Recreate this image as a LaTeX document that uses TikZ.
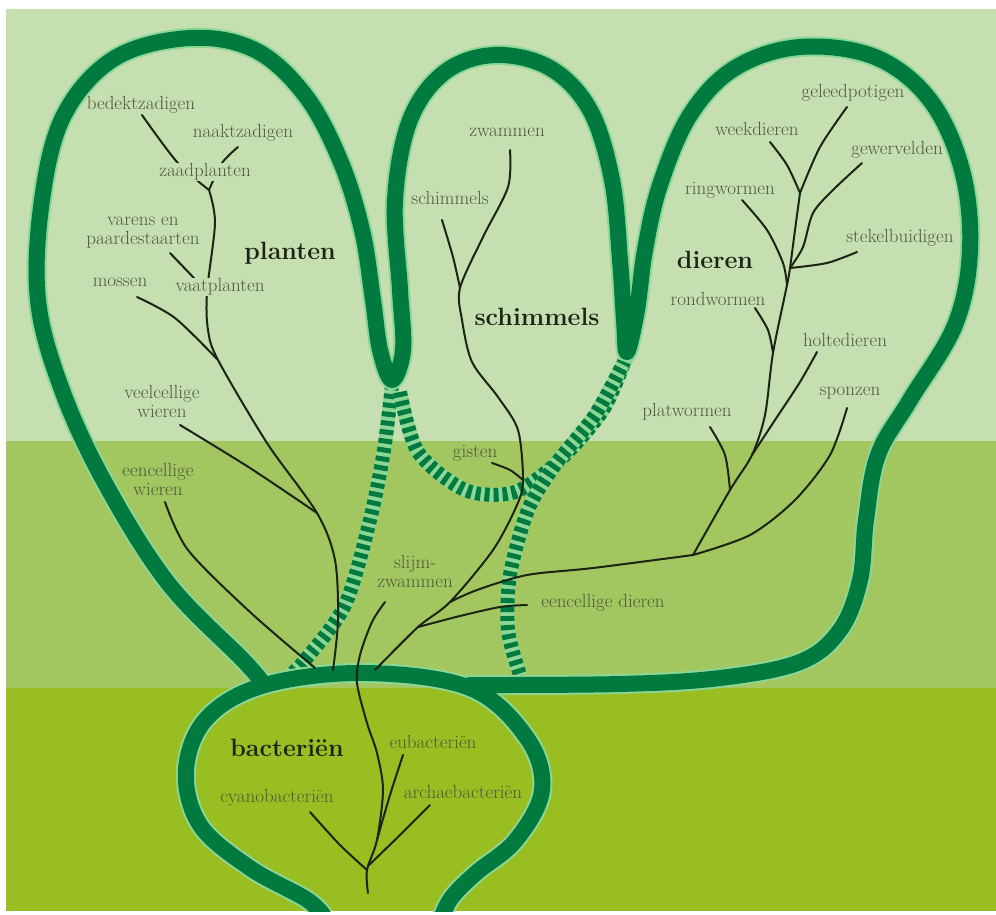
\documentclass[tikz,border=0pt]{standalone}
\usepackage{tikz}
\definecolor{bandtop}{RGB}{198,223,176}
\definecolor{bandmid}{RGB}{163,199,96}
\definecolor{bandlow}{RGB}{152,190,34}
\definecolor{lobegreen}{RGB}{0,122,62}
\definecolor{lobeglow}{RGB}{140,215,150}
\definecolor{stemdark}{RGB}{28,36,22}
\definecolor{labelgrey}{RGB}{80,88,62}
\tikzstyle{lobe} = [
 draw=lobegreen,
 line width=16pt,
 line cap=round,
 line join=round
]
\tikzstyle{glow} = [
 draw=lobeglow,
 line width=20pt,
 line cap=round
]
\tikzstyle{tapebase} = [
 draw=lobeglow,
 line width=14pt
]
\tikzstyle{tape} = [
 draw=lobegreen,
 line width=14pt,
 dash pattern=on 5pt off 4pt
]
\tikzstyle{branch} = [
 draw=stemdark,
 line width=2pt,
 line cap=round
]
\tikzstyle{taxon} = [
 text=labelgrey,
 font=\fontsize{19}{19}\selectfont,
 align=center,
 inner sep=1pt
]
\tikzstyle{kingdom} = [
 text=stemdark,
 font=\fontsize{25}{26}\selectfont\bfseries,
 inner sep=1pt
]
\begin{document}
\begin{tikzpicture}[x=1pt,y=-1pt]
  \useasboundingbox (0,0) rectangle (996,914);
  \fill[white] (0,0) rectangle (996,914);
  \begin{scope}
  \clip (6,9) rectangle (996,911);
  \fill[bandtop] (6,9) rectangle (996,441);
  \fill[bandmid] (6,441) rectangle (996,688);
  \fill[bandlow] (6,688) rectangle (996,911);

  % planten
  \node[taxon] (bedekt) at (141,105) {bedektzadigen};
  \node[taxon] (naakt) at (243,133) {naaktzadigen};
  \node[taxon] (varens) at (143,233) {varens en\\paardestaarten};
  \node[kingdom] (planten) at (290,253) {planten};
  \node[taxon] (mossen) at (120,282) {mossen};
  \node[taxon] (veelwieren) at (162,401) {veelcellige\\wieren};
  \node[taxon] (eenwieren) at (158,479) {eencellige\\wieren};
  % schimmels
  \node[taxon] (zwammen) at (507,132) {zwammen};
  \node[taxon] (schimmellabel) at (450,198) {schimmels};
  \node[kingdom] (schimmels) at (537,317) {schimmels};
  \node[taxon] (gisten) at (475,453) {gisten};
  \node[taxon] (slijm) at (415,571) {slijm-\\zwammen};
  % dieren
  \node[taxon] (eendieren) at (603,603) {eencellige dieren};
  \node[taxon] (geleed) at (853,93) {geleedpotigen};
  \node[taxon] (week) at (757,129) {weekdieren};
  \node[taxon] (gewerveld) at (897,150) {gewervelden};
  \node[taxon] (ring) at (730,190) {ringwormen};
  \node[taxon] (stekel) at (900,238) {stekelbuidigen};
  \node[kingdom] (dieren) at (715,260) {dieren};
  \node[taxon] (rond) at (718,299) {rondwormen};
  \node[taxon] (holte) at (845,340) {holtedieren};
  \node[taxon] (sponzen) at (850,393) {sponzen};
  \node[taxon] (plat) at (687,412) {platwormen};
  % bacterien
  \node[kingdom] (bacterien) at (287,748) {bacteriën};
  \node[taxon] (eubac) at (433,742) {eubacteriën};
  \node[taxon] (archbac) at (463,792) {archaebacteriën};
  \node[taxon] (cyanobac) at (277,798) {cyanobacteriën};

  \draw[tapebase] plot[smooth] coordinates {(392,385) (384,450) (370,520) (345,605) (305,660) (285,680)};
  \draw[tape] plot[smooth] coordinates {(392,385) (384,450) (370,520) (345,605) (305,660) (285,680)};
  \draw[tapebase] plot[smooth] coordinates {(400,392) (418,452) (465,490) (515,492) (562,458) (603,410) (625,360)};
  \draw[tape] plot[smooth] coordinates {(400,392) (418,452) (465,490) (515,492) (562,458) (603,410) (625,360)};
  \draw[tapebase] plot[smooth] coordinates {(625,360) (595,415) (555,465) (528,510) (510,575) (508,630) (520,675)};
  \draw[tape] plot[smooth] coordinates {(625,360) (595,415) (555,465) (528,510) (510,575) (508,630) (520,675)};

  \draw[glow] plot[smooth, tension=0.6] coordinates {(262,682) (243,660) (168,583) (105,483) (62,390) (38,300) (42,200) (64,115) (115,58) (190,38) (255,50) (305,95) (340,160) (362,230) (373,300) (380,350) (392,380) (403,350) (400,290) (395,200) (410,120) (445,72) (495,55) (550,68) (590,110) (612,180) (620,260) (624,320) (627,352) (637,310) (645,250) (660,185) (690,115) (735,68) (800,47) (875,57) (930,100) (962,170) (970,250) (955,325) (910,400) (878,455) (866,520) (860,580) (840,630) (800,662) (720,678) (620,684) (470,685)};
  \draw[glow, line cap=butt] plot[smooth, tension=0.6] coordinates {(324,916) (306,899) (250,868) (200,825) (186,770) (207,718) (265,685) (365,673) (470,688) (527,738) (542,790) (516,840) (476,873) (452,897) (442,916)};
  \draw[lobe] plot[smooth, tension=0.6] coordinates {(262,682) (243,660) (168,583) (105,483) (62,390) (38,300) (42,200) (64,115) (115,58) (190,38) (255,50) (305,95) (340,160) (362,230) (373,300) (380,350) (392,380) (403,350) (400,290) (395,200) (410,120) (445,72) (495,55) (550,68) (590,110) (612,180) (620,260) (624,320) (627,352) (637,310) (645,250) (660,185) (690,115) (735,68) (800,47) (875,57) (930,100) (962,170) (970,250) (955,325) (910,400) (878,455) (866,520) (860,580) (840,630) (800,662) (720,678) (620,684) (470,685)};
  \draw[lobe, line cap=butt] plot[smooth, tension=0.6] coordinates {(324,916) (306,899) (250,868) (200,825) (186,770) (207,718) (265,685) (365,673) (470,688) (527,738) (542,790) (516,840) (476,873) (452,897) (442,916)};

  % stamboom
  \coordinate (root) at (368,893);
  \coordinate (bfork) at (367,870);
  \coordinate (cyanotip) at (310,812);
  \coordinate (archtip) at (430,805);
  \coordinate (eufork) at (377,840);
  \coordinate (eutip) at (403,755);
  \coordinate (tbase) at (357,683);
  \coordinate (slijmtip) at (385,602);
  \coordinate (sbase) at (375,670);
  \coordinate (edfork) at (418,627);
  \coordinate (edtip) at (527,605);
  \coordinate (ddfork) at (450,602);
  \coordinate (gfork) at (523,480);
  \coordinate (gtip) at (492,463);
  \coordinate (smfork) at (460,288);
  \coordinate (smtip) at (442,220);
  \coordinate (zwtip) at (510,150);
  \coordinate (spfork) at (693,555);
  \coordinate (sptip) at (847,408);
  \coordinate (plfork) at (730,490);
  \coordinate (pltip) at (710,427);
  \coordinate (hofork) at (752,455);
  \coordinate (hotip) at (817,352);
  \coordinate (rofork) at (773,353);
  \coordinate (rotip) at (755,308);
  \coordinate (rifork) at (787,285);
  \coordinate (ritip) at (742,200);
  \coordinate (stfork) at (790,268);
  \coordinate (sttip) at (857,252);
  \coordinate (gwtip) at (862,163);
  \coordinate (wkfork) at (800,193);
  \coordinate (wktip) at (770,142);
  \coordinate (gptip) at (847,107);
  \coordinate (pbase) at (333,670);
  \coordinate (vwfork) at (317,513);
  \coordinate (vwtip) at (180,425);
  \coordinate (ewbase) at (315,668);
  \coordinate (ewtip) at (165,502);
  \coordinate (msfork) at (218,360);
  \coordinate (mstip) at (137,297);
  \coordinate (vpfork) at (207,292);
  \coordinate (vrtip) at (170,253);
  \coordinate (zpfork) at (209,190);
  \coordinate (bdtip) at (142,115);
  \coordinate (nztip) at (238,147);

  \draw[branch] plot[smooth] coordinates {(root) (bfork) (eufork) (383,790) (377,753) (367,723) (tbase) (360,655) (372,622) (slijmtip)};
  \draw[branch] plot[smooth] coordinates {(bfork) (340,845) (cyanotip)};
  \draw[branch] plot[smooth] coordinates {(368,866) (400,835) (archtip)};
  \draw[branch] plot[smooth] coordinates {(eufork) (390,795) (eutip)};

  \draw[branch] plot[smooth] coordinates {(sbase) (edfork) (ddfork) (493,550) (517,505) (gfork) (518,430) (498,397) (472,362) (462,320) (smfork) (483,237) (508,187) (zwtip)};
  \draw[branch] plot[smooth] coordinates {(smfork) (453,257) (smtip)};
  \draw[branch] plot[smooth] coordinates {(gtip) (510,470) (gfork)};
  \draw[branch] plot[smooth] coordinates {(edfork) (460,616) (500,607) (edtip)};

  \draw[branch] plot[smooth] coordinates {(ddfork) (477,590) (527,575) (593,568) (spfork)};
  \draw[branch] plot[smooth] coordinates {(spfork) (750,535) (795,500) (830,455) (sptip)};
  \draw[branch] plot[smooth] coordinates {(spfork) (plfork) (hofork) (765,415) (rofork) (rifork) (stfork) (795,230) (wkfork)};
  \draw[branch] plot[smooth] coordinates {(pltip) (725,455) (plfork)};
  \draw[branch] plot[smooth] coordinates {(hotip) (800,382) (775,420) (hofork)};
  \draw[branch] plot[smooth] coordinates {(rotip) (768,330) (rofork)};
  \draw[branch] plot[smooth] coordinates {(ritip) (767,230) (783,263) (rifork)};
  \draw[branch] plot[smooth] coordinates {(sttip) (827,263) (stfork)};
  \draw[branch] plot[smooth] coordinates {(gwtip) (833,190) (813,213) (803,247) (stfork)};
  \draw[branch] plot[smooth] coordinates {(wktip) (787,165) (wkfork)};
  \draw[branch] plot[smooth] coordinates {(gptip) (820,147) (wkfork)};

  \draw[branch] plot[smooth] coordinates {(pbase) (338,620) (335,560) (vwfork) (267,443) (msfork) (208,330) (vpfork) (215,223) (zpfork)};
  \draw[branch] plot[smooth] coordinates {(vwtip) (250,468) (vwfork)};
  \draw[branch] plot[smooth] coordinates {(ewtip) (188,550) (250,612) (ewbase)};
  \draw[branch] plot[smooth] coordinates {(mstip) (175,318) (msfork)};
  \draw[branch] plot[smooth] coordinates {(vrtip) (193,277) (vpfork)};
  \draw[branch] plot[smooth] coordinates {(bdtip) (177,162) (zpfork)};
  \draw[branch] plot[smooth] coordinates {(nztip) (222,163) (zpfork)};

  \node[taxon, fill=bandtop] (zaad) at (205,172) {zaadplanten};
  \node[taxon, fill=bandtop] (vaat) at (220,287) {vaatplanten};
  \end{scope}
\end{tikzpicture}
\end{document}
